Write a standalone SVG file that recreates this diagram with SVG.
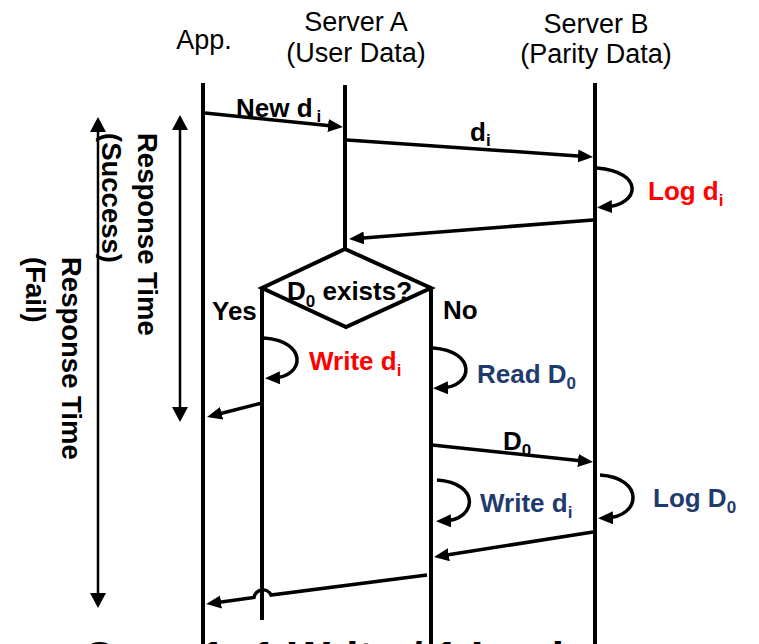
<svg xmlns="http://www.w3.org/2000/svg" width="759" height="644" viewBox="0 0 759 644">
  <style>
    text { font-family: "Liberation Sans", Arial, "DejaVu Sans", sans-serif; }
    .hdr { font-size: 27px; fill: #000; text-anchor: middle; }
    .lbl { font-size: 26px; font-weight: bold; fill: #000; }
    .vt { font-size: 27.5px; font-weight: bold; fill: #000; }
    .sub { font-size: 17px; }
    .red { fill: #FF0000; }
    .navy { fill: #1F3B6E; }
    .life { stroke: #000; stroke-width: 4; fill: none; }
    .msg { stroke: #000; stroke-width: 3.5; fill: none; marker-end: url(#ah); }
    .rt { stroke: #000; stroke-width: 2.5; fill: none; marker-start: url(#rh); marker-end: url(#rh); }
  </style>
  <defs>
    <!-- message arrowhead: tip sits 8px beyond the path end -->
    <marker id="ah" markerUnits="userSpaceOnUse" viewBox="0 0 16 14" markerWidth="16" markerHeight="14" refX="7" refY="6.5" orient="auto">
      <path d="M0,0 L15,6.5 L0,13 z" fill="#000"/>
    </marker>
    <!-- response-time arrowheads, both ends -->
    <marker id="rh" markerUnits="userSpaceOnUse" viewBox="0 0 16 16" markerWidth="16" markerHeight="16" refX="7" refY="8" orient="auto-start-reverse">
      <path d="M0,0 L15,8 L0,16 z" fill="#000"/>
    </marker>
  </defs>

  <rect width="759" height="644" fill="#fff"/>

  <!-- participants -->
  <g id="app">
    <text class="hdr" x="204" y="49">App.</text>
    <line class="life" x1="203" y1="83" x2="203" y2="644"/>
  </g>
  <g id="server-a">
    <text class="hdr" x="356" y="31">Server A</text>
    <text class="hdr" x="356" y="62">(User Data)</text>
    <line class="life" x1="345" y1="85" x2="345" y2="249"/>
    <line class="life" x1="262" y1="288" x2="262" y2="620"/>
    <line class="life" x1="431" y1="288" x2="431" y2="644"/>
  </g>
  <g id="server-b">
    <text class="hdr" x="596" y="33">Server B</text>
    <text class="hdr" x="596" y="63">(Parity Data)</text>
    <line class="life" x1="595" y1="83" x2="595" y2="644"/>
  </g>

  <!-- decision on Server A -->
  <g id="decision">
    <polygon points="345,249 431,288 346,327 262,288" fill="#fff" stroke="#000" stroke-width="4" stroke-linejoin="miter"/>
    <text class="lbl" x="287" y="300" font-size="25">D<tspan class="sub" dy="7">0</tspan><tspan dy="-7"> exists?</tspan></text>
  </g>

  <!-- messages and self-calls -->
  <g id="connectors">
    <path class="msg" d="M205,113 L335,126.2"/>
    <path class="msg" d="M347,140 L585,156.4"/>
    <path class="msg" d="M597,168 C645,172 640,205 605,207"/>
    <path class="msg" d="M593,220 L357,238.4"/>
    <path class="msg" d="M264,338 C308,341 305,377 273,378"/>
    <path class="msg" d="M262,403 L214.8,415"/>
    <path class="msg" d="M433,348 C477,351 474,387 441,388"/>
    <path class="msg" d="M432,445 L585,461.2"/>
    <path class="msg" d="M437,480 C481,483 477,520 444,521"/>
    <path class="msg" d="M600,475 C645,478 641,517 606,518"/>
    <path class="msg" d="M593,532 L441.9,555.8"/>
    <path class="msg" d="M427,575 L271,595 A9,9 0 0 0 254,597.5 L214.1,603"/>
  </g>

  <!-- message labels -->
  <g id="labels">
    <text class="lbl" x="236" y="117">New d<tspan class="sub" dx="4" dy="5">i</tspan></text>
    <text class="lbl" x="470" y="141" font-size="24">d<tspan class="sub" dy="5">i</tspan></text>
    <text class="lbl red" x="648" y="200">Log d<tspan class="sub" dy="6">i</tspan></text>
    <text class="lbl" x="212" y="320" font-size="25">Yes</text>
    <text class="lbl" x="443" y="319" font-size="25">No</text>
    <text class="lbl red" x="309" y="370">Write d<tspan class="sub" dy="6">i</tspan></text>
    <text class="lbl navy" x="477" y="383">Read D<tspan class="sub" dy="6">0</tspan></text>
    <text class="lbl" x="503" y="450" font-size="24">D<tspan class="sub" dy="6">0</tspan></text>
    <text class="lbl navy" x="480" y="512">Write d<tspan class="sub" dy="6">i</tspan></text>
    <text class="lbl navy" x="653" y="507">Log D<tspan class="sub" dy="6">0</tspan></text>
  </g>

  <!-- response time spans -->
  <g id="response-times">
    <path class="rt" d="M180,123 V414"/>
    <path class="rt" d="M98,125 V600"/>
    <text class="vt" transform="translate(138,133) rotate(90)">Response Time</text>
    <text class="vt" transform="translate(102,133) rotate(90)">(Success)</text>
    <text class="vt" transform="translate(62,257) rotate(90)">Response Time</text>
    <text class="vt" transform="translate(26,257) rotate(90)">(Fail)</text>
  </g>

  <!-- caption running off the lower edge -->
  <text x="83" y="673" font-size="44" font-weight="bold" fill="#000" font-family="Liberation Sans, Arial, sans-serif">Case 1: 1 Write / 1 Lookup</text>
</svg>
